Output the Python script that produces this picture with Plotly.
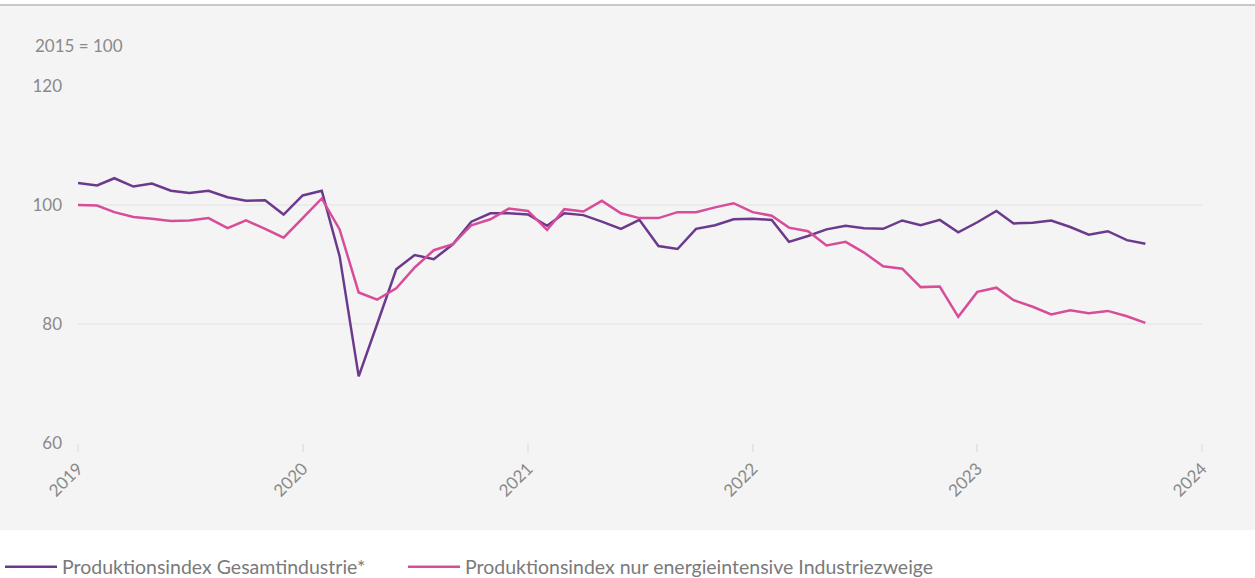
import plotly.graph_objects as go
import pandas as pd

months = pd.date_range("2019-01-01", "2023-10-01", freq="MS")

gesamt = [103.7, 103.3, 104.5, 103.1, 103.6, 102.4, 102.0, 102.4, 101.3, 100.7, 100.8, 98.4,
          101.6, 102.4, 91.4, 71.2, 80.0, 89.2, 91.6, 90.9, 93.4, 97.2, 98.6, 98.6,
          98.4, 96.5, 98.6, 98.3, 97.2, 96.0, 97.5, 93.1, 92.6, 96.0, 96.6, 97.6,
          97.7, 97.5, 93.8, 94.8, 95.9, 96.5, 96.1, 96.0, 97.4, 96.6, 97.5, 95.4,
          97.1, 99.0, 96.9, 97.0, 97.4, 96.3, 95.0, 95.6, 94.1, 93.5]

energie = [100.0, 99.9, 98.8, 98.0, 97.7, 97.3, 97.4, 97.8, 96.1, 97.4, 96.0, 94.5,
           97.8, 101.1, 95.9, 85.3, 84.1, 86.0, 89.5, 92.4, 93.4, 96.6, 97.6, 99.4,
           99.0, 95.8, 99.3, 98.9, 100.7, 98.6, 97.8, 97.8, 98.8, 98.8, 99.6, 100.3,
           98.8, 98.2, 96.2, 95.6, 93.2, 93.8, 92.0, 89.7, 89.3, 86.2, 86.3, 81.2,
           85.4, 86.1, 84.0, 82.9, 81.6, 82.3, 81.8, 82.2, 81.3, 80.2]

series_names = ["Produktionsindex Gesamtindustrie*",
                "Produktionsindex nur energieintensive Industriezweige"]
series_colors = ["#6c3a8d", "#d74d99"]
y_ticks = [60, 80, 100, 120]
x_ticks = ["2019-01-01", "2020-01-01", "2021-01-01", "2022-01-01", "2023-01-01", "2024-01-01"]
x_ticklabels = ["2019", "2020", "2021", "2022", "2023", "2024"]

W, H = 1255, 578
L, R, T, B = 78, 53, 86, 135
pw, ph = W - L - R, H - T - B

fig = go.Figure()
for i, (vals, name, col) in enumerate(zip([gesamt, energie], series_names, series_colors)):
    fig.add_trace(go.Scatter(x=months, y=vals, mode="lines", name=name,
                             legend="legend" if i == 0 else "legend2",
                             line=dict(color=col, width=2.5)))

font_family = "Lato, 'Open Sans', sans-serif"
grey_txt = "#8a8a8a"
leg_y = (H - 567) / H
leg_common = dict(orientation="h", xref="container", yref="container",
                  xanchor="left", yanchor="middle", y=leg_y,
                  font=dict(size=19.5, color="#7a7a7a"),
                  bgcolor="rgba(0,0,0,0)", itemwidth=52, borderwidth=0)

fig.update_layout(
    width=W, height=H,
    margin=dict(l=L, r=R, t=T, b=B, pad=0, autoexpand=False),
    paper_bgcolor="white",
    plot_bgcolor="rgba(0,0,0,0)",
    font=dict(family=font_family, size=17, color=grey_txt),
    showlegend=True,
    hovermode=False,
    legend=dict(x=-11 / W, **leg_common),
    legend2=dict(x=403 / W, **leg_common),
    xaxis=dict(range=["2019-01-01", "2024-01-01"], tickmode="array",
               tickvals=x_ticks, ticktext=x_ticklabels, tickangle=-45,
               showgrid=False, zeroline=False, showline=False, automargin=False,
               ticks="outside", ticklen=8, tickcolor="#e6e6e6", tickwidth=2,
               tickfont=dict(size=17, color=grey_txt)),
    yaxis=dict(range=[60, 120], tickmode="array", tickvals=y_ticks,
               showgrid=True, gridcolor="#ebebeb", gridwidth=2,
               zeroline=False, showline=False, ticks="", automargin=False,
               ticklabelstandoff=15,
               tickfont=dict(size=17, color=grey_txt)),
    shapes=[
        dict(type="rect", xref="paper", yref="paper", layer="below",
             x0=-L / pw - 0.01, x1=1 + R / pw + 0.01,
             y0=-(530 - 443) / ph, y1=1 + (T - 5) / ph,
             fillcolor="#f4f4f4", line=dict(width=0)),
        dict(type="line", xref="paper", yref="paper", layer="below",
             x0=-L / pw - 0.01, x1=1 + R / pw + 0.01,
             y0=1 + (T - 5) / ph, y1=1 + (T - 5) / ph,
             line=dict(color="#c8c8c8", width=2)),
        dict(type="line", xref="paper", yref="y", layer="below",
             x0=0, x1=1, y0=100, y1=100,
             line=dict(color="#a0a0a0", width=2)),
    ],
    annotations=[
        dict(text="2015 = 100", xref="paper", yref="paper",
             x=(33 - L) / pw, y=1 + (T - 46) / ph, xanchor="left", yanchor="middle",
             showarrow=False, font=dict(size=17, color=grey_txt)),
    ],
)

fig.write_html("out.html", config={"displayModeBar": False},
               post_script="document.body.style.margin='0';")
